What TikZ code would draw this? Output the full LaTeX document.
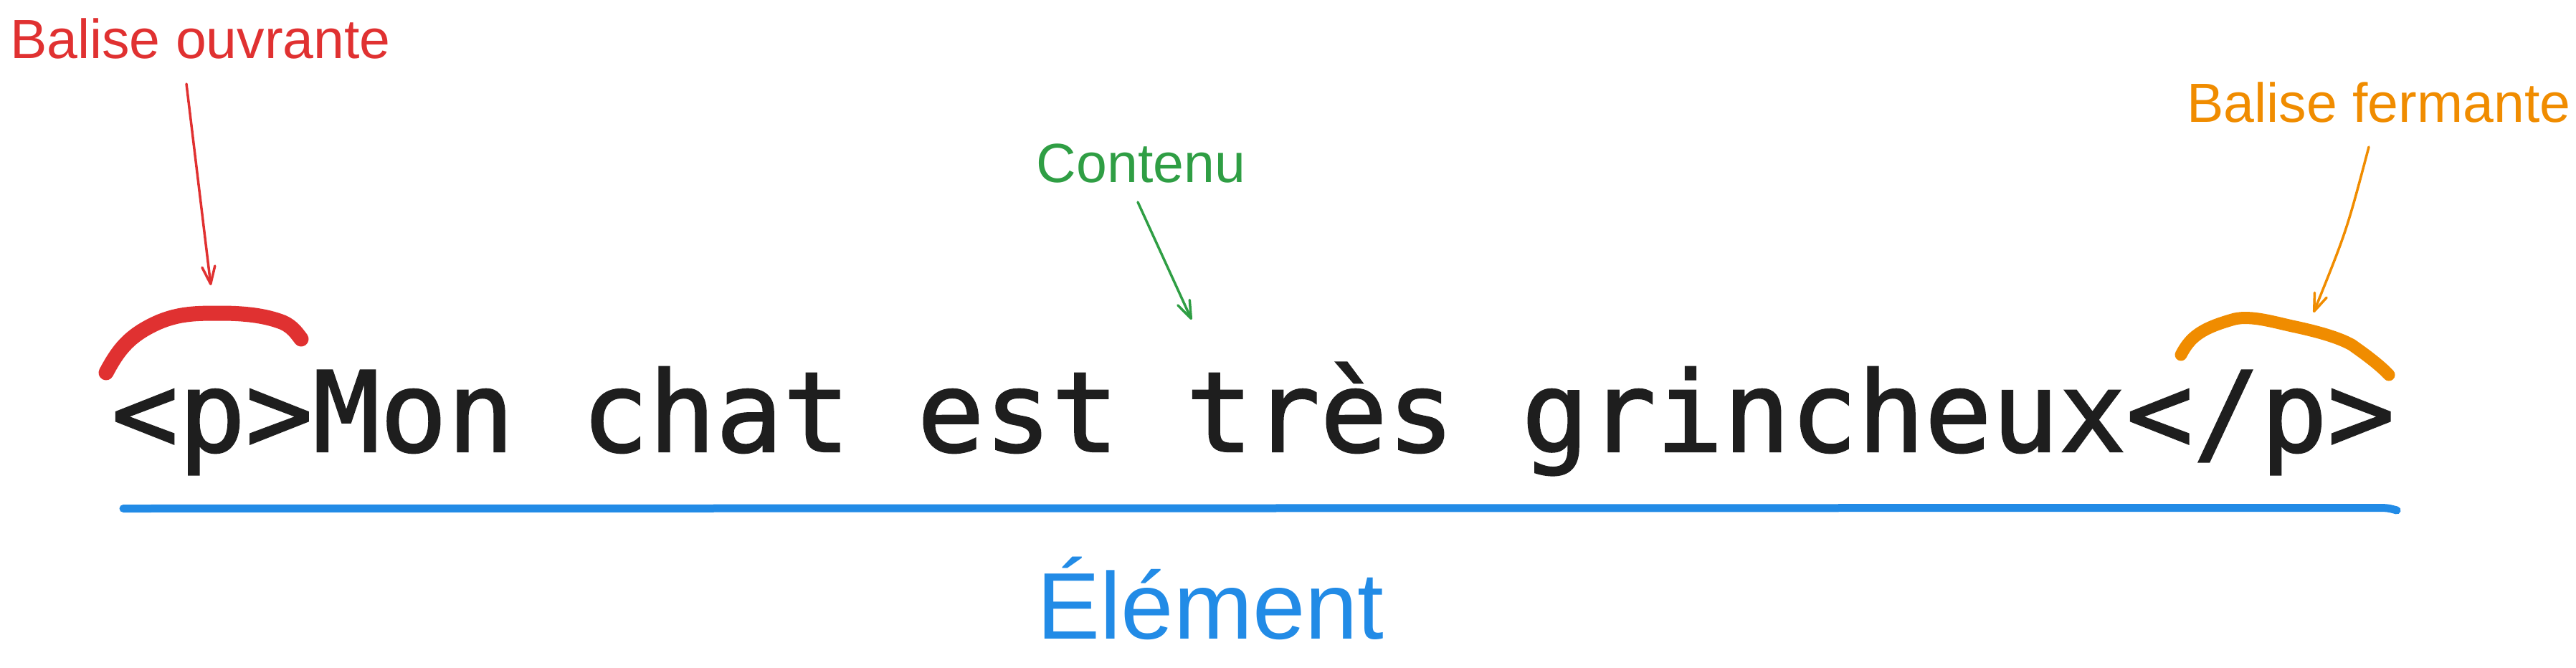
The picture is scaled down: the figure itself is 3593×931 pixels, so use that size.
\documentclass[tikz,border=0pt]{standalone}
\usepackage{fontspec}
\setmainfont{Liberation Sans}
\newfontfamily\codefont[FakeBold=1.5]{DejaVu Sans Mono}
\usetikzlibrary{arrows.meta}
\definecolor{exred}{HTML}{E03131}
\definecolor{exgreen}{HTML}{2F9E44}
\definecolor{exorange}{HTML}{F08C00}
\definecolor{exblue}{HTML}{228BE6}
\definecolor{exdark}{HTML}{1E1E1E}
\tikzset{
  label/.style={inner sep=0pt, anchor=base, font=\fontsize{19.25pt}{22pt}\selectfont},
  pointer/.style={line width=0.875pt, line cap=round, line join=round,
    -{Straight Barb[length=6.1pt,width=4.5pt,line cap=round,line join=round]}},
  brace/.style={line cap=round, line join=round},
}
\begin{document}
\begin{tikzpicture}[x=0.25pt, y=-0.25pt]
\useasboundingbox (0,0) rectangle (3593,931);
% main code line
\node[inner sep=0pt, anchor=base west, text=exdark,
      font=\codefont\fontsize{38.9pt}{42pt}\selectfont] (code) at (154.5,630)
      {<p>Mon chat est très grincheux</p>};
% labels
\node[label, text=exred] (ouv) at (279.5,81) {Balise ouvrante};
\node[label, text=exgreen] (cont) at (1591.5,254) {Contenu};
\node[label, text=exorange] (ferm) at (3318,170) {Balise fermante};
\node[inner sep=0pt, anchor=base, text=exblue,
      font=\fontsize{33pt}{36pt}\selectfont] (elem) at (1688.5,891) {Élément};
% arrow end points
\coordinate (ouv-s) at (260,117);
\coordinate (ouv-e) at (294,398);
\coordinate (cont-s) at (1587,282);
\coordinate (cont-e) at (1662,446);
\coordinate (ferm-s) at (3304,205);
\coordinate (ferm-e) at (3227,436);
\draw[pointer, exred] (ouv-s) -- (ouv-e);
\draw[pointer, exgreen] (cont-s) -- (cont-e);
\draw[pointer, exorange] (ferm-s) .. controls (3273,322) .. (ferm-e);
% opening tag highlight
\draw[brace, exred, line width=5.25pt]
  (148,520) .. controls (165,488) and (180,468) .. (220,450)
  .. controls (250,437) and (275,437) .. (307,437)
  .. controls (340,437) and (370,440) .. (395,450)
  .. controls (408,456) and (414,465) .. (420,473);
% closing tag highlight
\draw[brace, exorange, line width=4.25pt]
  (3042,495) .. controls (3055,470) and (3070,458) .. (3117,445)
  .. controls (3140,440) and (3170,449) .. (3197,455)
  .. controls (3230,462) and (3260,470) .. (3280,481)
  .. controls (3300,495) and (3320,510) .. (3332,523);
% element underline
\coordinate (ul-s) at (172,709.5);
\coordinate (ul-e) at (3343,712);
\draw[exblue, line width=2.75pt, line cap=round]
  (ul-s) -- (3310,708.5) .. controls (3330,708.5) .. (ul-e);
\end{tikzpicture}
\end{document}
